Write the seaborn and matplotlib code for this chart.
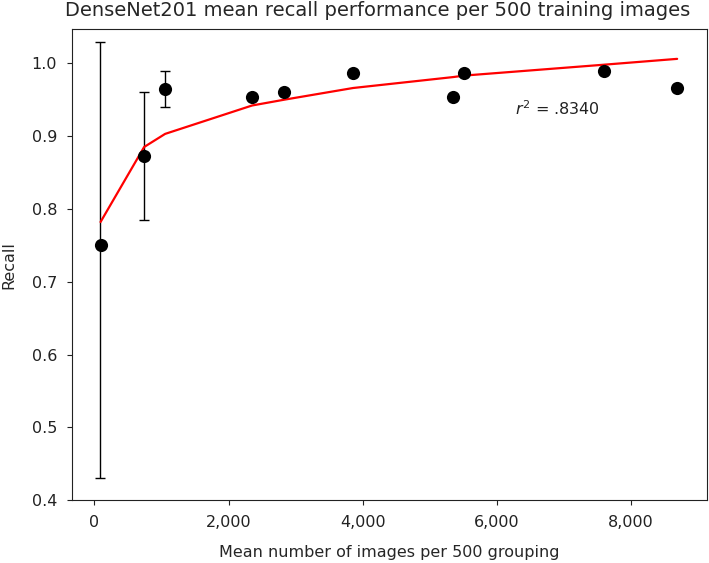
import matplotlib
matplotlib.use('Agg')
import matplotlib.pyplot as plt
import matplotlib.ticker as mticker
import seaborn as sns
import pandas as pd

# mean images per grouping vs recall
x_vals = [90, 740, 1053, 2350, 2832, 3855, 5346, 5505, 7597, 8685]
recall = [0.750, 0.873, 0.964, 0.954, 0.961, 0.986, 0.954, 0.987, 0.989, 0.966]
fit_vals = [0.782, 0.885, 0.903, 0.942, 0.950, 0.966, 0.981, 0.983, 0.998, 1.006]

# error bars only on the first three groupings
err_x = [85, 740, 1053]
err_y = [0.750, 0.873, 0.964]
err_low = [0.320, 0.088, 0.024]
err_high = [0.279, 0.088, 0.025]

r2_text = '$r^2$ = .8340'

df = pd.DataFrame({'images': x_vals, 'recall': recall, 'fit': fit_vals})

sns.set_style('ticks')
plt.rcParams['font.family'] = ['DejaVu Sans']

fig, ax = plt.subplots(figsize=(7.09, 5.63), dpi=100)
fig.subplots_adjust(left=0.1011, right=0.9968, bottom=0.1114, top=0.9485)

ax.errorbar(err_x, err_y, yerr=[err_low, err_high], fmt='none',
            ecolor='black', elinewidth=1, capsize=3.5, capthick=1, zorder=2)
sns.lineplot(data=df, x='images', y='fit', color='red', linewidth=1.6, ax=ax, zorder=3)
sns.scatterplot(data=df, x='images', y='recall', color='black', s=90,
                edgecolor='black', linewidth=0, ax=ax, zorder=4)

ax.text(6269, 0.9375, r2_text, ha='left', va='center', fontsize=11.5, color='#222222')

ax.set_xlim(-340, 9126)
ax.set_ylim(0.4, 1.047)
ax.xaxis.set_major_locator(mticker.MultipleLocator(2000))
ax.xaxis.set_major_formatter(mticker.StrMethodFormatter('{x:,.0f}'))
ax.yaxis.set_major_locator(mticker.MultipleLocator(0.1))

ax.tick_params(labelsize=11.5, colors='#222222', pad=7)
ax.set_xlabel('Mean number of images per 500 grouping', fontsize=11.5, labelpad=11)
ax.set_ylabel('Recall', fontsize=11.5, labelpad=11)
ax.set_title('DenseNet201 mean recall performance per 500 training images',
             fontsize=14, pad=9, x=0.481)
for s in ax.spines.values():
    s.set_color('#222222')

fig.savefig('out.png', dpi=100)
